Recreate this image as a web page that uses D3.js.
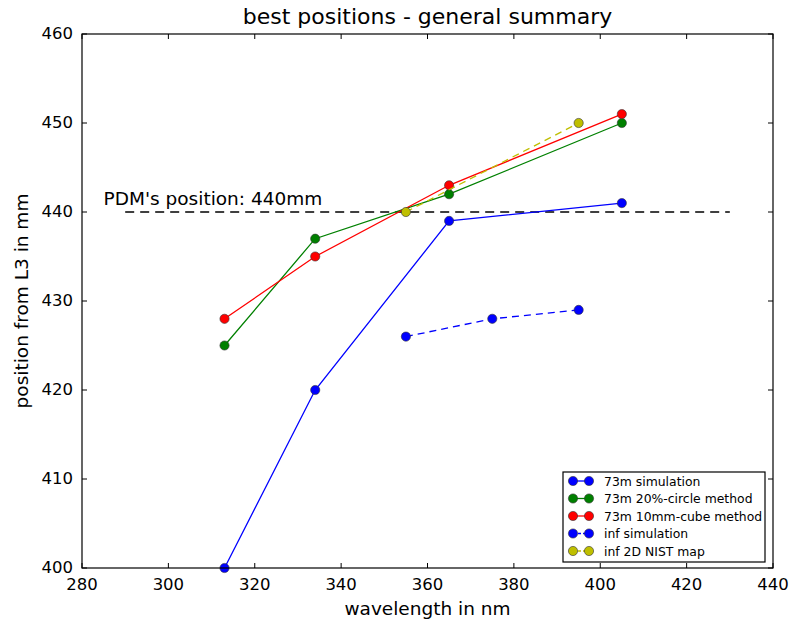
<!DOCTYPE html>
<html><head><meta charset="utf-8">
<script src="https://cdn.jsdelivr.net/npm/d3@7"></script>
<style>body{margin:0;background:#fff}text{font-family:"DejaVu Sans",sans-serif}</style>
</head><body><svg id="c" width="790" height="621"></svg>
<script>
const xTicks=[280,300,320,340,360,380,400,420,440];
const yTicks=[400,410,420,430,440,450,460];
const sim73x=[313,334,365,405], sim73y=[400,420,439,441];
const circ73x=[313,334,365,405], circ73y=[425,437,442,450];
const cube73x=[313,334,365,405], cube73y=[428,435,443,451];
const infSimX=[355,375,395], infSimY=[426,428,429];
const nistX=[355,395], nistY=[440,450];
const pdmX=[290,430], pdmY=[440,440];
const seriesNames=["73m simulation","73m 20%-circle method","73m 10mm-cube method","inf simulation","inf 2D NIST map"];
const colors=["#0000ff","#008000","#ff0000","#0000ff","#bfbf00"];
const dashes=[null,null,null,"7,5","7,5"];

const svg=d3.select("#c");
const L=82,R=773,T=34,B=568;
const x=d3.scaleLinear().domain([280,440]).range([L,R]);
const y=d3.scaleLinear().domain([400,460]).range([B,T]);

const series=[[sim73x,sim73y],[circ73x,circ73y],[cube73x,cube73y],[infSimX,infSimY],[nistX,nistY]];

// PDM line
svg.append("line").attr("x1",x(pdmX[0])).attr("x2",x(pdmX[1])).attr("y1",y(pdmY[0])).attr("y2",y(pdmY[1]))
 .attr("stroke","#000").attr("stroke-width",1.3).attr("stroke-dasharray","9,6");
svg.append("text").attr("x",x(285)).attr("y",y(440)-7).attr("font-size",18.5).text("PDM's position: 440mm");

const line=d3.line();
series.forEach((s,i)=>{
  const pts=s[0].map((v,j)=>[x(v),y(s[1][j])]);
  svg.append("path").attr("d",line(pts)).attr("fill","none").attr("stroke",colors[i]).attr("stroke-width",1.3)
   .attr("stroke-dasharray",dashes[i]);
  pts.forEach(p=>svg.append("circle").attr("cx",p[0]).attr("cy",p[1]).attr("r",4.6).attr("fill",colors[i])
   .attr("stroke","#333").attr("stroke-width",0.6));
});

// frame
svg.append("rect").attr("x",L).attr("y",T).attr("width",R-L).attr("height",B-T).attr("fill","none").attr("stroke","#000").attr("stroke-width",1.2);

// ticks (inward, all sides)
const tl=5;
xTicks.forEach(t=>{
  svg.append("line").attr("x1",x(t)).attr("x2",x(t)).attr("y1",B).attr("y2",B-tl).attr("stroke","#000");
  svg.append("line").attr("x1",x(t)).attr("x2",x(t)).attr("y1",T).attr("y2",T+tl).attr("stroke","#000");
  svg.append("text").attr("x",x(t)).attr("y",B+22).attr("text-anchor","middle").attr("font-size",16.5).text(t);
});
yTicks.forEach(t=>{
  svg.append("line").attr("x1",L).attr("x2",L+tl).attr("y1",y(t)).attr("y2",y(t)).attr("stroke","#000");
  svg.append("line").attr("x1",R).attr("x2",R-tl).attr("y1",y(t)).attr("y2",y(t)).attr("stroke","#000");
  svg.append("text").attr("x",L-9).attr("y",y(t)+5).attr("text-anchor","end").attr("font-size",16.5).text(t);
});

svg.append("text").attr("x",(L+R)/2).attr("y",24).attr("text-anchor","middle").attr("font-size",22).text("best positions - general summary");
svg.append("text").attr("x",(L+R)/2).attr("y",615).attr("text-anchor","middle").attr("font-size",18.5).text("wavelength in nm");
svg.append("text").attr("transform",`translate(28,${(T+B)/2}) rotate(-90)`).attr("text-anchor","middle").attr("font-size",18.5).text("position from L3 in mm");

// legend
const lg=svg.append("g");
lg.append("rect").attr("x",563).attr("y",472).attr("width",202).attr("height",90).attr("fill","#fff").attr("stroke","#000").attr("stroke-width",1.2);
seriesNames.forEach((n,i)=>{
  const yy=481+i*17.5;
  lg.append("line").attr("x1",573).attr("x2",589).attr("y1",yy).attr("y2",yy).attr("stroke",colors[i]).attr("stroke-width",1.3).attr("stroke-dasharray",dashes[i]?"3,2":null);
  [573,589].forEach(cx=>lg.append("circle").attr("cx",cx).attr("cy",yy).attr("r",4.6).attr("fill",colors[i]).attr("stroke","#333").attr("stroke-width",0.6));
  lg.append("text").attr("x",604).attr("y",yy+4.5).attr("font-size",12.4).text(n);
});
</script></body></html>
